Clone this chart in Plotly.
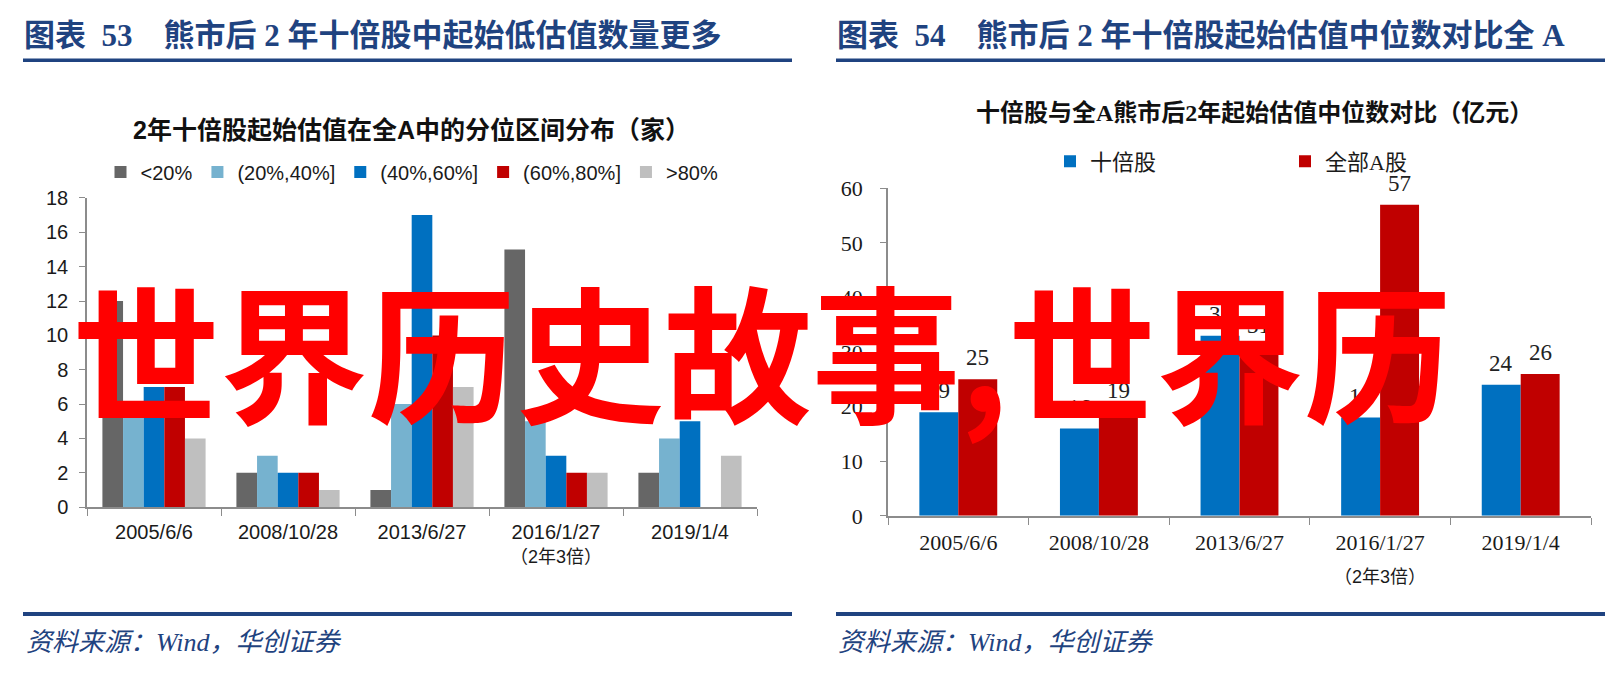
import plotly.graph_objects as go

W, H = 1623, 683

# ---------------- data ----------------
dates = ["2005/6/6", "2008/10/28", "2013/6/27", "2016/1/27", "2019/1/4"]
note_cat = "2016/1/27"
note_text = "（2年3倍）"

# chart 1: distribution of starting valuation percentile (count)
bucket_names = ["<20%", "(20%,40%]", "(40%,60%]", "(60%,80%]", ">80%"]
lt20 = [12, 2, 1, 15, 2]
p20_40 = [6, 3, 6, 5, 4]
p40_60 = [7, 2, 17, 3, 5]
p60_80 = [7, 2, 10, 2, 0]
gt80 = [4, 1, 7, 2, 3]
bucket_values = [lt20, p20_40, p40_60, p60_80, gt80]
bucket_colors = ["#666666", "#76B2CF", "#0070C0", "#C00000", "#BFBFBF"]

# chart 2: median starting valuation (100m CNY)
ten_bagger = [19, 16, 33, 18, 24]
all_a = [25, 19, 31, 57, 26]
series2_names = ["十倍股", "全部A股"]
series2_values = [ten_bagger, all_a]
series2_colors = ["#0070C0", "#C00000"]

header1 = "图表\u200253\u2003熊市后 2 年十倍股中起始低估值数量更多"
header2 = "图表\u200254\u2003熊市后 2 年十倍股起始估值中位数对比全 A"
title1 = "2年十倍股起始估值在全A中的分位区间分布（家）"
title2 = "十倍股与全A熊市后2年起始估值中位数对比（亿元）"
source = "资料来源：Wind，华创证券"
watermark = "世界历史故事,世界历"

NAVY = "#1F4380"
AXIS = "#8C8C8C"

# plot-area pixel boxes (left, right, top, bottom)
C1 = (87, 757, 193, 514)
C2 = (888, 1591, 183, 523)


def px(x):
    return x / W


def py(y):
    return 1 - y / H


fig = go.Figure()

# chart 1 bars
n1 = len(bucket_names)
bw1 = 0.154
for i, (name, vals, col) in enumerate(zip(bucket_names, bucket_values, bucket_colors)):
    fig.add_trace(go.Bar(
        x=dates, y=vals, name=name, marker_color=col, marker_line_width=0,
        width=bw1, offset=-bw1 * n1 / 2 + i * bw1,
        xaxis="x", yaxis="y", legend="legend",
    ))

# chart 2 bars
bw2 = 0.277
cat_px2 = (C2[1] - C2[0]) / len(dates)
ann = []
for i, (name, vals, col) in enumerate(zip(series2_names, series2_values, series2_colors)):
    off = -bw2 + i * bw2
    fig.add_trace(go.Bar(
        x=dates, y=vals, name=name, marker_color=col, marker_line_width=0,
        width=bw2, offset=off,
        xaxis="x2", yaxis="y2", legend="legend2",
    ))
    # value labels above each bar
    for d, v in zip(dates, vals):
        ann.append(dict(text=str(v), x=d, y=v, xref="x2", yref="y2",
                        xanchor="center", yanchor="bottom",
                        xshift=(off + bw2 / 2) * cat_px2, yshift=7,
                        font=dict(family="Liberation Serif, Times New Roman, serif",
                                  size=23, color="#222222")))

sans = "Liberation Sans, Arial, Noto Sans CJK SC, sans-serif"
serif = "Liberation Serif, Times New Roman, Noto Sans CJK SC, serif"

axis_common = dict(showgrid=False, zeroline=False, showline=True, linecolor=AXIS,
                   linewidth=1.5, ticks="outside", tickcolor=AXIS, tickwidth=1.3, fixedrange=True)

fig.update_layout(
    width=W, height=H,
    margin=dict(l=0, r=0, t=0, b=0),
    paper_bgcolor="white", plot_bgcolor="white",
    barmode="group",
    xaxis=dict(domain=[px(C1[0]), px(C1[1])], type="category", tickson="boundaries", ticklen=7,
               tickfont=dict(family=sans, size=20, color="#1a1a1a"), ticklabelstandoff=6,
               anchor="y", **axis_common),
    yaxis=dict(domain=[py(C1[3]), py(C1[2])], range=[0, 18], dtick=2, ticklen=6,
               tickfont=dict(family=sans, size=20, color="#1a1a1a"), ticklabelstandoff=7,
               anchor="x", **axis_common),
    xaxis2=dict(domain=[px(C2[0]), px(C2[1])], type="category", tickson="boundaries", ticklen=7,
                tickfont=dict(family=serif, size=22, color="#1a1a1a"), ticklabelstandoff=6,
                anchor="y2", **axis_common),
    yaxis2=dict(domain=[py(C2[3]), py(C2[2])], range=[0, 60], dtick=10, ticklen=6,
                tickfont=dict(family=serif, size=22, color="#1a1a1a"), ticklabelstandoff=13,
                anchor="x2", **axis_common),
    legend=dict(orientation="h", x=px(412), xanchor="center", y=py(166), yanchor="middle",
                font=dict(family=sans, size=20, color="#1a1a1a"), itemwidth=30,
                bgcolor="rgba(0,0,0,0)", traceorder="normal"),
    legend2=dict(orientation="h", x=px(1050), xanchor="left", y=py(155), yanchor="middle",
                 font=dict(family=serif, size=22, color="#1a1a1a"), itemwidth=30,
                 entrywidth=190, bgcolor="rgba(0,0,0,0)", traceorder="normal"),
    showlegend=True,
)

# headers
ann.append(dict(text=header1, x=px(22), y=py(24), xanchor="left", yanchor="middle",
                font=dict(family=serif, size=31, color=NAVY, weight="bold")))
ann.append(dict(text=header2, x=px(835), y=py(24), xanchor="left", yanchor="middle",
                font=dict(family=serif, size=31, color=NAVY, weight="bold")))
# chart titles
ann.append(dict(text=title1, x=px(411), y=py(123), xanchor="center", yanchor="middle",
                font=dict(family=sans, size=25, color="#111111", weight="bold")))
ann.append(dict(text=title2, x=px(1254), y=py(104), xanchor="center", yanchor="middle",
                font=dict(family=serif, size=24, color="#111111", weight="bold")))
# second-line notes under category
ann.append(dict(text=note_text, x=note_cat, xref="x", y=py(566), yref="paper",
                xanchor="center", yanchor="middle",
                font=dict(family=sans, size=18, color="#1a1a1a")))
ann.append(dict(text=note_text, x=note_cat, xref="x2", y=py(586), yref="paper",
                xanchor="center", yanchor="middle",
                font=dict(family=sans, size=18, color="#1a1a1a")))
# sources
ann.append(dict(text=source, x=px(24), y=py(654), xanchor="left", yanchor="middle",
                font=dict(family=serif, size=26, color=NAVY, style="italic")))
ann.append(dict(text=source, x=px(836), y=py(654), xanchor="left", yanchor="middle",
                font=dict(family=serif, size=26, color=NAVY, style="italic")))
# watermark
ann.append(dict(text=watermark, x=px(70), y=py(348), xanchor="left", yanchor="middle",
                font=dict(family="Noto Sans CJK SC, sans-serif", size=148, color="#FF0000",
                          weight="bold")))
for a in ann:
    a.setdefault("xref", "paper")
    a.setdefault("yref", "paper")
    a["showarrow"] = False
fig.update_layout(annotations=ann)

shapes = []
for (x0, x1) in [(23, 792), (836, 1605)]:
    shapes.append(dict(type="line", xref="paper", yref="paper", x0=px(x0), x1=px(x1),
                       y0=py(50), y1=py(50), line=dict(color=NAVY, width=3.5)))
    shapes.append(dict(type="line", xref="paper", yref="paper", x0=px(x0), x1=px(x1),
                       y0=py(625), y1=py(625), line=dict(color=NAVY, width=4)))
fig.update_layout(shapes=shapes)

fig.write_html("out.html")
